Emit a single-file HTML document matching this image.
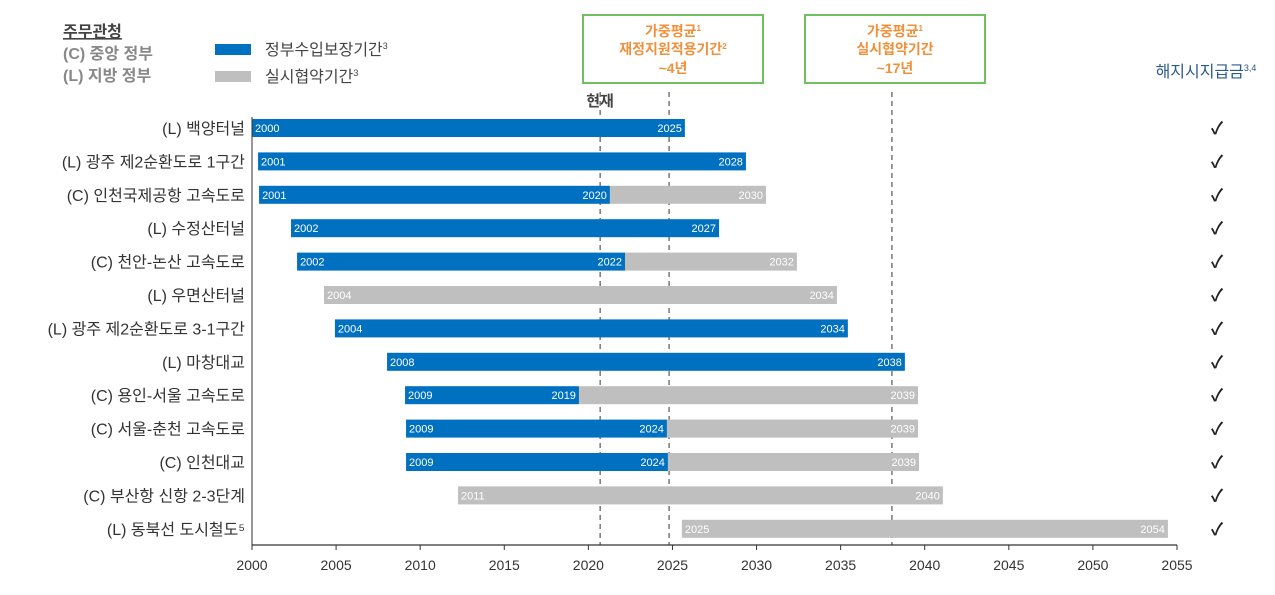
<!DOCTYPE html>
<html><head><meta charset="utf-8">
<style>
body{margin:0;background:#fff;width:1275px;height:590px;overflow:hidden;font-family:"Liberation Sans","Noto Sans CJK KR",sans-serif;}
svg text{font-family:"Liberation Sans","Noto Sans CJK KR",sans-serif;}
</style></head><body>
<svg id="chart" width="1275" height="590" xmlns="http://www.w3.org/2000/svg">
<g>
<text x="63" y="37" font-size="16" font-weight="bold" fill="#444" text-decoration="underline">주무관청</text>
<text x="63" y="59" font-size="16" font-weight="bold" fill="#888">(C) 중앙 정부</text>
<text x="63" y="81" font-size="16" font-weight="bold" fill="#888">(L) 지방 정부</text>
<rect x="215" y="44" width="36" height="11" fill="#0070c0"/>
<text x="265" y="55" font-size="16" fill="#444">정부수입보장기간<tspan font-size="9" dy="-6">3</tspan></text>
<rect x="215" y="71" width="36" height="11" fill="#bfbfbf"/>
<text x="265" y="82" font-size="16" fill="#444">실시협약기간<tspan font-size="9" dy="-6">3</tspan></text>
</g>
<g>
<rect x="583" y="15" width="180" height="68" fill="none" stroke="#70c060" stroke-width="2"/>
<text x="673" y="36" font-size="14" font-weight="bold" fill="#f0903a" text-anchor="middle">가중평균<tspan font-size="8" dy="-5">1</tspan></text>
<text x="673" y="54" font-size="14" font-weight="bold" fill="#f0903a" text-anchor="middle">재정지원적용기간<tspan font-size="8" dy="-5">2</tspan></text>
<text x="673" y="73" font-size="14" font-weight="bold" fill="#f0903a" text-anchor="middle">~4년</text>
</g>
<g>
<rect x="805" y="15" width="180" height="68" fill="none" stroke="#70c060" stroke-width="2"/>
<text x="895" y="36" font-size="14" font-weight="bold" fill="#f0903a" text-anchor="middle">가중평균<tspan font-size="8" dy="-5">1</tspan></text>
<text x="895" y="54" font-size="14" font-weight="bold" fill="#f0903a" text-anchor="middle">실시협약기간</text>
<text x="895" y="73" font-size="14" font-weight="bold" fill="#f0903a" text-anchor="middle">~17년</text>
</g>
<text x="1206" y="77" font-size="16" fill="#2a5a8a" text-anchor="middle">해지시지급금<tspan font-size="9" dy="-6">3,4</tspan></text>
<text x="600" y="106" font-size="15" font-weight="bold" fill="#444" text-anchor="middle">현재</text>
<g id="plot"></g>
</svg>
<script>
const projects=["(L) 백양터널","(L) 광주 제2순환도로 1구간","(C) 인천국제공항 고속도로","(L) 수정산터널","(C) 천안-논산 고속도로","(L) 우면산터널","(L) 광주 제2순환도로 3-1구간","(L) 마창대교","(C) 용인-서울 고속도로","(C) 서울-춘천 고속도로","(C) 인천대교","(C) 부산항 신항 2-3단계","(L) 동북선 도시철도⁵"];
const startYear=[2000.0,2000.36,2000.42,2002.32,2002.68,2004.28,2004.93,2008.03,2009.1,2009.16,2009.16,2012.25,2025.56];
const guaranteeEnd=[2025.74,2029.37,2021.28,2027.77,2022.18,null,2035.43,2038.82,2019.44,2024.67,2024.73,null,null];
const agreementEnd=[null,null,2030.56,null,2032.4,2034.78,null,null,2039.6,2039.6,2039.66,2041.08,2054.46];
const startLabels=["2000","2001","2001","2002","2002","2004","2004","2008","2009","2009","2009","2011","2025"];
const guaranteeLabels=["2025","2028","2020","2027","2022","","2034","2038","2019","2024","2024","",""];
const agreementLabels=["","","2030","","2032","2034","","","2039","2039","2039","2040","2054"];
const termination=[1,1,1,1,1,1,1,1,1,1,1,1,1];
const xTicks=[2000,2005,2010,2015,2020,2025,2030,2035,2040,2045,2050,2055];
const refLines=[2020.7,2024.8,2038.05];

const NS="http://www.w3.org/2000/svg";
const g=document.getElementById('plot');
const x=v=>252+(v-2000)*(925/55);
const y=i=>128+i*33.4;
function mk(t,a,txt){const e=document.createElementNS(NS,t);for(const k in a)e.setAttribute(k,a[k]);if(txt!==undefined)e.textContent=txt;g.appendChild(e);return e;}
refLines.forEach(v=>{const e=mk('line',{x1:x(v),x2:x(v),y1:92,y2:545,stroke:'#555','stroke-dasharray':'5,4','stroke-width':1.2});

});
projects.forEach((p,i)=>{
 const cy=y(i);
 const l=mk('text',{x:245,y:cy+6,'font-size':16,fill:'#333','text-anchor':'end'},p);
 
 
 const s=startYear[i];
 if(agreementEnd[i]!==null){const from=guaranteeEnd[i]!==null?guaranteeEnd[i]:s;
  const r=mk('rect',{x:x(from),y:cy-9,width:x(agreementEnd[i])-x(from),height:18,fill:'#bfbfbf'});
  
  
  const t=mk('text',{x:x(agreementEnd[i])-3,y:cy+4,'font-size':11,fill:'#fff','text-anchor':'end'},agreementLabels[i]);
  
  }
 if(guaranteeEnd[i]!==null){
  const r=mk('rect',{x:x(s),y:cy-9,width:x(guaranteeEnd[i])-x(s),height:18,fill:'#0070c0'});
  
  
  const t=mk('text',{x:x(guaranteeEnd[i])-3,y:cy+4,'font-size':11,fill:'#fff','text-anchor':'end'},guaranteeLabels[i]);
  
  }
 const st=mk('text',{x:x(s)+3,y:cy+4,'font-size':11,fill:'#fff'},startLabels[i]);
 
 
 if(termination[i]){const c=mk('text',{x:1217,y:cy+6,'font-size':17,'font-weight':'bold',fill:'#222','text-anchor':'middle'},'✓');
  
  }
});
const ax=mk('line',{x1:252,x2:1177,y1:545,y2:545,stroke:'#333','stroke-width':1.2});


const ay=mk('line',{x1:252,x2:252,y1:117,y2:545,stroke:'#333','stroke-width':1});


xTicks.forEach(v=>{mk('line',{x1:x(v),x2:x(v),y1:545,y2:550,stroke:'#333'});
 const t=mk('text',{x:x(v),y:570,'font-size':14,fill:'#333','text-anchor':'middle'},String(v));
 
 });
</script>
</body></html>
